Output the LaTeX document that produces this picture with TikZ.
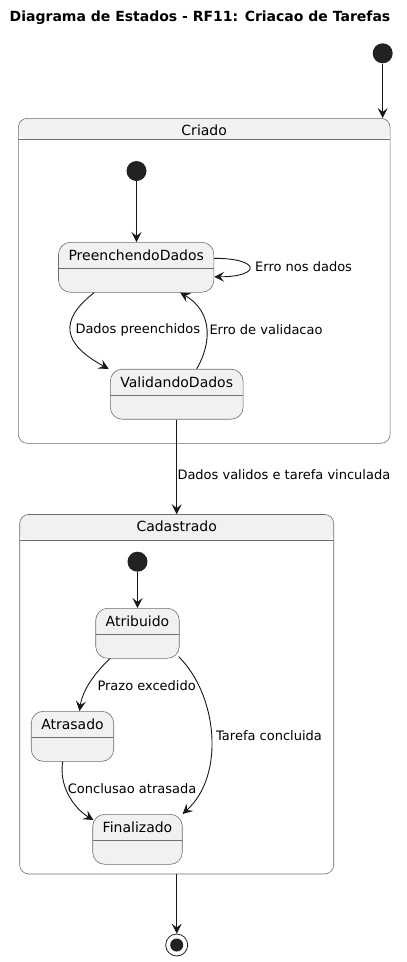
\documentclass[tikz,border=0pt]{standalone}
\usepackage{fontspec}
\setmainfont{DejaVu Sans}
\usepackage{tikz}
\usetikzlibrary{arrows.meta}

\definecolor{statefill}{HTML}{F1F1F1}
\definecolor{linegray}{HTML}{6E6E6E}
\definecolor{arrowblack}{HTML}{181818}
\definecolor{dotblack}{HTML}{222222}

\tikzset{
  state/.style={draw=linegray, fill=statefill, line width=0.6pt, rounded corners=12pt,
    inner xsep=10pt, inner ysep=0pt, text height=18pt, text depth=32pt,
    font=\fontsize{14}{16}\selectfont,
    path picture={\draw[linegray, line width=0.6pt] ([yshift=-26pt]path picture bounding box.north west)
      -- ([yshift=-26pt]path picture bounding box.north east);}},
  comp/.style={draw=linegray, fill=white, line width=0.6pt, rounded corners=9pt,
    inner sep=0pt, text height=17pt, font=\fontsize{14}{16}\selectfont,
    path picture={\fill[statefill] (path picture bounding box.north west)
      rectangle ([yshift=-#1]path picture bounding box.north east);
      \draw[linegray, line width=0.6pt] ([yshift=-#1]path picture bounding box.north west)
      -- ([yshift=-#1]path picture bounding box.north east);}},
  initdot/.style={circle, fill=dotblack, minimum size=20pt, inner sep=0pt},
  enddot/.style={circle, draw=dotblack, line width=0.8pt, minimum size=22pt, inner sep=0pt,
    path picture={\fill[dotblack] (path picture bounding box.center) circle (6.5pt);}},
  arr/.style={draw=arrowblack, line width=0.9pt, -{Stealth[length=10pt,width=10pt,inset=4pt]}},
  lbl/.style={anchor=west, inner sep=0pt, font=\fontsize{13}{15}\selectfont}
}

\begin{document}
\begin{tikzpicture}[x=1pt,y=-1pt]
  \useasboundingbox (0,0) rectangle (407,962);
  \node [font=\bfseries\fontsize{14}{16}\selectfont] (title) at (200,18) {Diagrama de Estados - RF11: Criacao de Tarefas};

  % Criado
  \node [initdot] (i0) at (382.7,53.3) {};
  \node [comp=21pt, minimum width=371.7pt, text depth=308pt] (crd) at (204.2,280.8) {Criado};
  \node [initdot] (i1) at (136.5,171) {};
  \node [state] (pd) at (136.2,267.3) {PreenchendoDados};
  \node [state] (vd) at (176.7,394.2) {ValidandoDados};
  \draw [arr] (i0) -- (i0 |- crd.north);
  \draw [arr] (i1) -- (i1 |- pd.north);
  \draw [arr] ([yshift=9pt]pd.east) .. controls +(47,0) and +(47,0) .. ([yshift=-9.5pt]pd.east);
  \node [lbl] (l1) at (255,267) {Erro nos dados};
  \draw [arr] ([xshift=-42pt]pd.south) .. controls +(-36,28) and +(-46,-25) .. ([xshift=-68pt]vd.north);
  \node [lbl] (l2) at (75.3,330) {Dados preenchidos};
  \draw [arr] ([xshift=20pt]vd.north) .. controls +(14,-24) and +(34,20) .. ([xshift=44pt]pd.south);
  \node [lbl] (l3) at (209.3,330) {Erro de validacao};

  % Cadastrado
  \node [comp=26pt, minimum width=314pt, text depth=342.5pt] (cad) at (176.7,694.2) {Cadastrado};
  \draw [arr] (vd.south) -- (cad.north);
  \node [lbl] (l4) at (177.3,475) {Dados validos e tarefa vinculada};
  \node [initdot] (i2) at (137.5,561.7) {};
  \node [state] (ab) at (137.5,633.3) {Atribuido};
  \node [state] (as) at (72.5,736.3) {Atrasado};
  \node [state] (fi) at (137.5,839.3) {Finalizado};
  \draw [arr] (i2) -- (i2 |- ab.north);
  \draw [arr] ([xshift=-27.5pt]ab.south) .. controls +(-15,14) and +(3,-21) .. ([xshift=7pt]as.north);
  \node [lbl] (l5) at (97.3,685.3) {Prazo excedido};
  \draw [arr] ([xshift=-9.8pt]as.south) .. controls +(-4,24) and +(-20,-12) .. ([xshift=1pt,yshift=-6pt]fi.north west);
  \node [lbl] (l6) at (67.7,788.3) {Conclusao atrasada};
  \draw [arr] ([xshift=-1pt,yshift=2pt]ab.south east) .. controls +(38.7,38) and +(43,-39) .. (fi.north east);
  \node [lbl] (l7) at (216,736) {Tarefa concluida};

  % fim
  \node [enddot] (fin) at (176.7,945) {};
  \draw [arr] (cad.south) -- (fin.north);
\end{tikzpicture}
\end{document}
